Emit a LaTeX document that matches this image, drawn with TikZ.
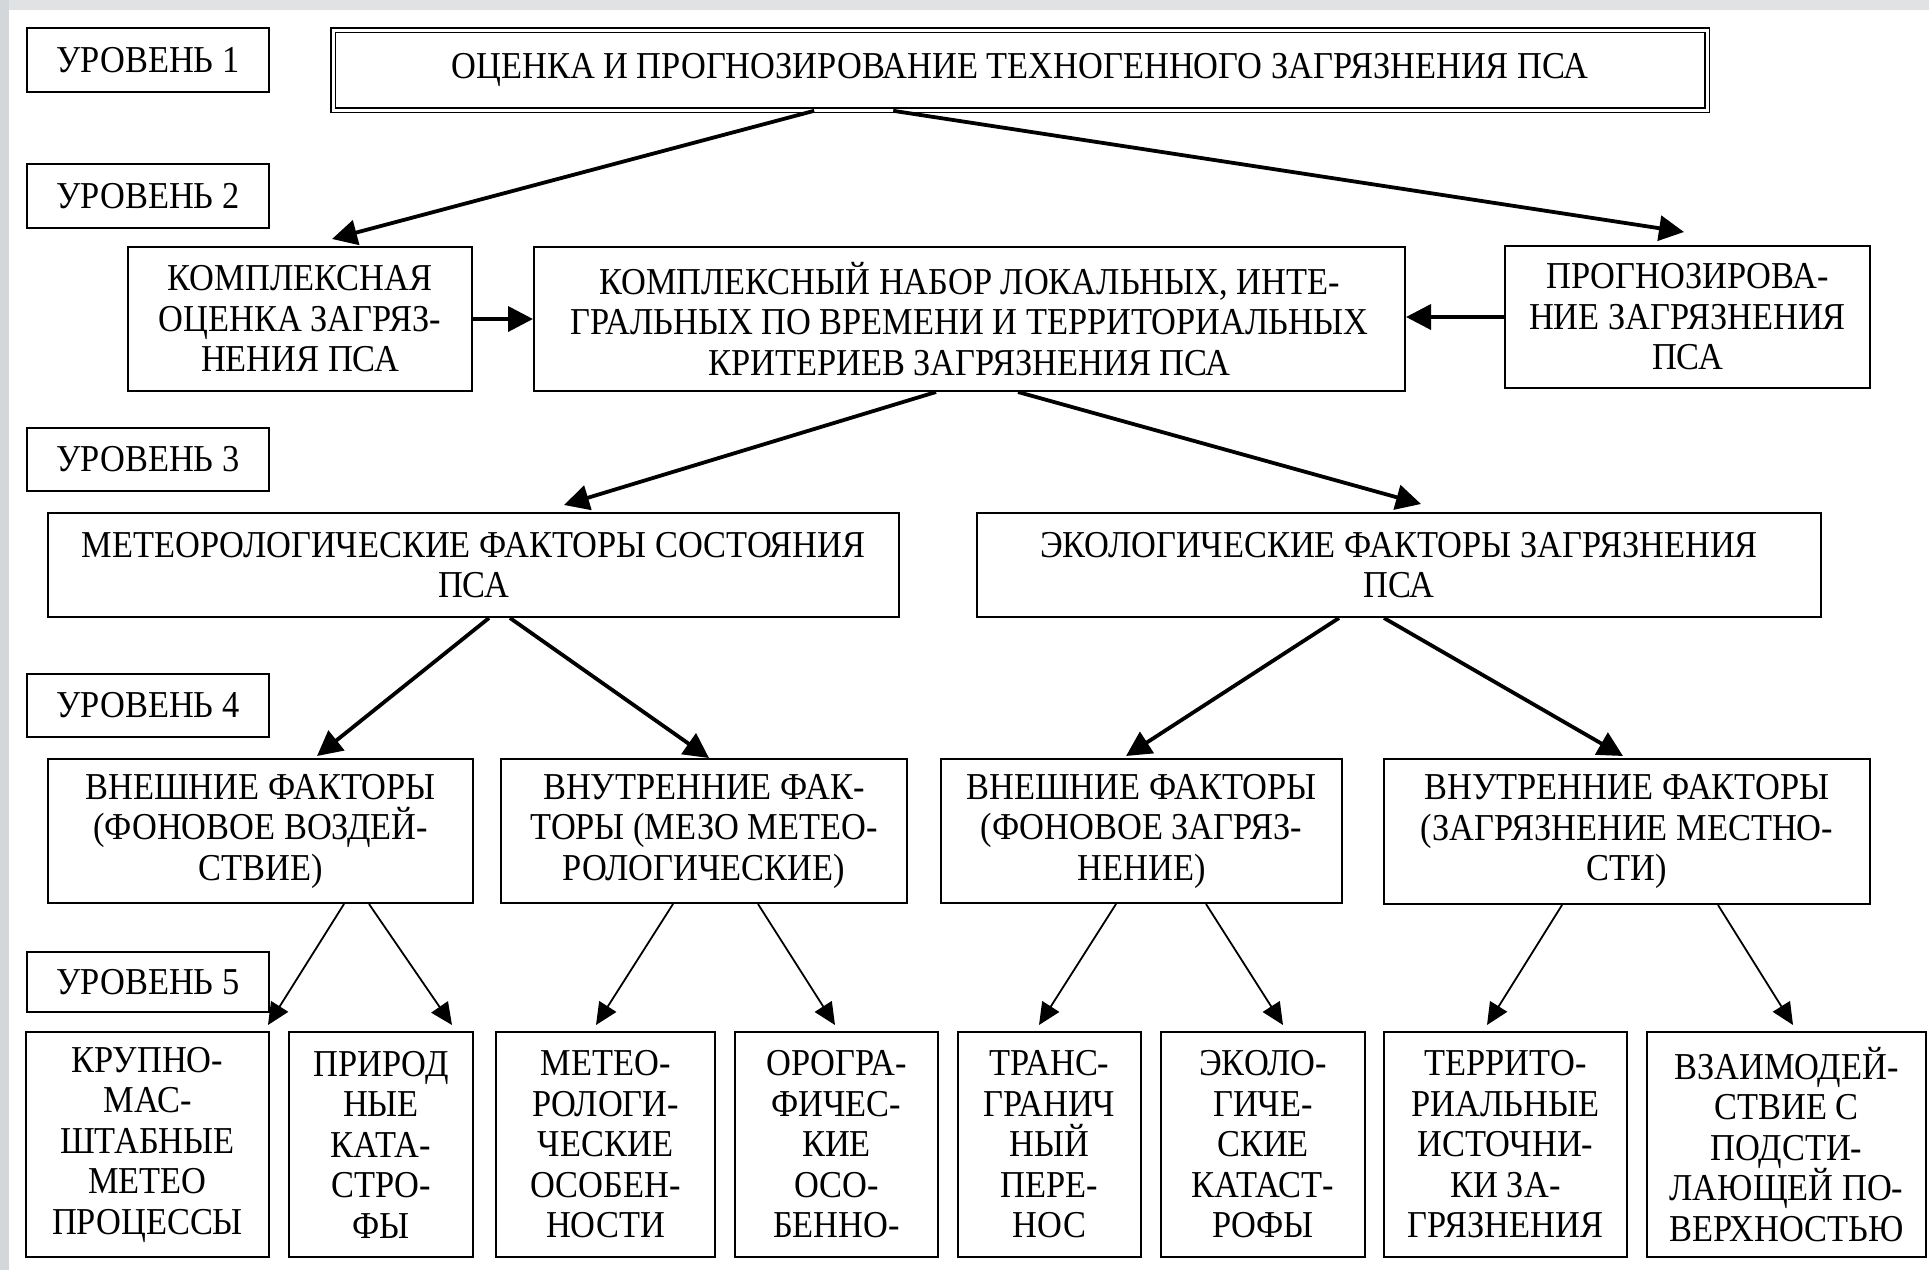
\documentclass[tikz,border=0pt]{standalone}
\usepackage{fontspec}
\newfontfamily\boxfont{Liberation Serif}[FakeStretch=0.905]
\usetikzlibrary{arrows.meta,calc}
\definecolor{framegray}{RGB}{224,226,228}
\definecolor{framegrayL}{RGB}{212,215,218}
\tikzset{
  box/.style={draw=black, line width=2pt, inner sep=0pt, align=center,
    font=\boxfont\fontsize{38}{40.5}\selectfont},
  dbox/.style={box, line width=1.6pt, double=white, double distance=3pt},
  thickarr/.style={line width=3.8pt, -{Triangle[length=25pt,width=25pt]}},
  thinarr/.style={line width=1.8pt, -{Triangle[length=22pt,width=20pt]}},
}
\newcommand{\bx}[7][box]{%
  \node[#1, minimum width={(#5-#3)*1pt}, minimum height={(#6-#4)*1pt}]
    (#2) at ({(#3+#5)/2},{(#4+#6)/2}) {#7};}
\begin{document}
\begin{tikzpicture}[x=1pt,y=-1pt]
\useasboundingbox (0,0) rectangle (1929,1270);
\fill[white] (0,0) rectangle (1929,1270);
\fill[framegray] (0,0) rectangle (1929,10);
\fill[framegrayL] (0,0) rectangle (9,1270);

% level labels
\bx{lv1}{27}{28}{269}{92}{УРОВЕНЬ 1}
\bx{lv2}{27}{164}{269}{228}{УРОВЕНЬ 2}
\bx{lv3}{27}{428}{269}{491}{УРОВЕНЬ 3}
\bx{lv4}{27}{674}{269}{737}{УРОВЕНЬ 4}
\bx{lv5}{27}{952}{269}{1012}{УРОВЕНЬ 5}

% level 1
\bx[dbox]{top}{333}{30}{1707}{110}{ОЦЕНКА И ПРОГНОЗИРОВАНИЕ ТЕХНОГЕННОГО ЗАГРЯЗНЕНИЯ ПСА}

% level 2
\bx{k1}{128}{247}{472}{391}{КОМПЛЕКСНАЯ\\ОЦЕНКА ЗАГРЯЗ-\\НЕНИЯ ПСА}
\bx{k2}{534}{247}{1405}{391}{КОМПЛЕКСНЫЙ НАБОР ЛОКАЛЬНЫХ, ИНТЕ-\\ГРАЛЬНЫХ ПО ВРЕМЕНИ И ТЕРРИТОРИАЛЬНЫХ\\КРИТЕРИЕВ ЗАГРЯЗНЕНИЯ ПСА}
\bx{k3}{1505}{246}{1870}{388}{ПРОГНОЗИРОВА-\\НИЕ ЗАГРЯЗНЕНИЯ\\ПСА}

% level 3
\bx{m3}{48}{513}{899}{617}{МЕТЕОРОЛОГИЧЕСКИЕ ФАКТОРЫ СОСТОЯНИЯ\\ПСА}
\bx{e3}{977}{513}{1821}{617}{ЭКОЛОГИЧЕСКИЕ ФАКТОРЫ ЗАГРЯЗНЕНИЯ\\ПСА}

% level 4
\bx{v1}{48}{759}{473}{903}{ВНЕШНИЕ ФАКТОРЫ\\(ФОНОВОЕ ВОЗДЕЙ-\\СТВИЕ)}
\bx{n1}{501}{759}{907}{903}{ВНУТРЕННИЕ ФАК-\\ТОРЫ (МЕЗО МЕТЕО-\\РОЛОГИЧЕСКИЕ)}
\bx{v2}{941}{759}{1342}{903}{ВНЕШНИЕ ФАКТОРЫ\\(ФОНОВОЕ ЗАГРЯЗ-\\НЕНИЕ)}
\bx{n2}{1384}{759}{1870}{904}{ВНУТРЕННИЕ ФАКТОРЫ\\(ЗАГРЯЗНЕНИЕ МЕСТНО-\\СТИ)}

% level 5
\bx{b1}{26}{1032}{269}{1257}{КРУПНО-\\МАС-\\ШТАБНЫЕ\\МЕТЕО\\ПРОЦЕССЫ}
\bx{b2}{289}{1032}{473}{1257}{ПРИРОД\\НЫЕ\\КАТА-\\СТРО-\\ФЫ}
\bx{b3}{496}{1032}{715}{1257}{МЕТЕО-\\РОЛОГИ-\\ЧЕСКИЕ\\ОСОБЕН-\\НОСТИ}
\bx{b4}{735}{1032}{938}{1257}{ОРОГРА-\\ФИЧЕС-\\КИЕ\\ОСО-\\БЕННО-}
\bx{b5}{958}{1032}{1141}{1257}{ТРАНС-\\ГРАНИЧ\\НЫЙ\\ПЕРЕ-\\НОС}
\bx{b6}{1161}{1032}{1365}{1257}{ЭКОЛО-\\ГИЧЕ-\\СКИЕ\\КАТАСТ-\\РОФЫ}
\bx{b7}{1384}{1032}{1627}{1257}{ТЕРРИТО-\\РИАЛЬНЫЕ\\ИСТОЧНИ-\\КИ ЗА-\\ГРЯЗНЕНИЯ}
\bx{b8}{1647}{1032}{1926}{1257}{ВЗАИМОДЕЙ-\\СТВИЕ С\\ПОДСТИ-\\ЛАЮЩЕЙ ПО-\\ВЕРХНОСТЬЮ}

% thick connectors
\draw[thickarr] ($(top.south west)+(482,0)$) -- ($(k1.north west)+(205,-7)$);
\draw[thickarr] ($(top.south west)+(561,0)$) -- ($(k3.north west)+(180,-13)$);
\draw[thickarr] (k1.east) -- (k2.west);
\draw[thickarr] (k3.west) -- (k3.west -| k2.east);
\draw[thickarr] ($(k2.south west)+(403,0)$) -- ($(m3.north west)+(517,-7)$);
\draw[thickarr] ($(k2.south west)+(485,0)$) -- ($(e3.north west)+(445,-8)$);
\draw[thickarr] ($(m3.south west)+(442,0)$) -- ($(v1.north west)+(270,-2)$);
\draw[thickarr] ($(m3.south west)+(463,0)$) -- ($(n1.north west)+(209,0)$);
\draw[thickarr] ($(e3.south west)+(363,0)$) -- ($(v2.north west)+(186,-2)$);
\draw[thickarr] ($(e3.south west)+(408,0)$) -- ($(n2.north west)+(240,-2)$);

% thin connectors
\draw[thinarr] ($(v1.south west)+(297,0)$) -- ($(b1.north west)+(243,-6)$);
\draw[thinarr] ($(v1.south west)+(322,0)$) -- ($(b2.north west)+(164,-6)$);
\draw[thinarr] ($(n1.south west)+(173,0)$) -- ($(b3.north west)+(101,-6)$);
\draw[thinarr] ($(n1.south west)+(258,0)$) -- ($(b4.north west)+(101,-6)$);
\draw[thinarr] ($(v2.south west)+(176,0)$) -- ($(b5.north west)+(82,-6)$);
\draw[thinarr] ($(v2.south west)+(266,0)$) -- ($(b6.north west)+(123,-6)$);
\draw[thinarr] ($(n2.south west)+(179,0)$) -- ($(b7.north west)+(104,-6)$);
\draw[thinarr] ($(n2.south west)+(335,0)$) -- ($(b8.north west)+(147,-6)$);
\end{tikzpicture}
\end{document}
